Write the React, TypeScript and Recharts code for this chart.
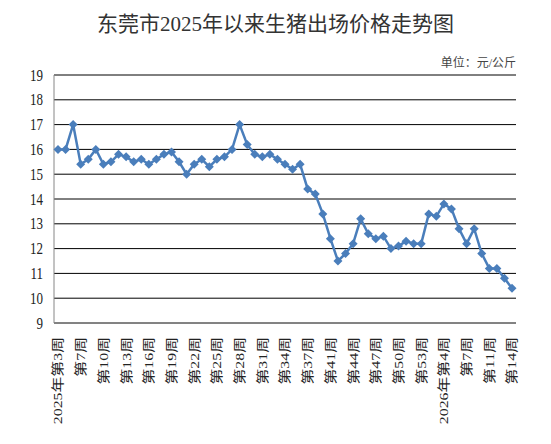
import { LineChart, Line, XAxis, YAxis, CartesianGrid } from 'recharts'

const weeks = [
  '2025年第3周', '第4周', '第6周', '第7周', '第8周', '第9周', '第10周', '第11周', '第12周', '第13周',
  '第14周', '第15周', '第16周', '第17周', '第18周', '第19周', '第20周', '第21周', '第22周', '第23周',
  '第24周', '第25周', '第26周', '第27周', '第28周', '第29周', '第30周', '第31周', '第32周', '第33周',
  '第34周', '第35周', '第36周', '第37周', '第38周', '第39周', '第41周', '第42周', '第43周', '第44周',
  '第45周', '第46周', '第47周', '第48周', '第49周', '第50周', '第51周', '第52周', '第53周', '2026年第2周',
  '第3周', '2026年第4周', '第5周', '第6周', '第7周', '第9周', '第10周', '第11周', '第12周', '第13周',
  '第14周',
]

const prices = [
  16.0, 16.0, 17.0, 15.4, 15.6, 16.0, 15.4, 15.5, 15.8, 15.7,
  15.5, 15.6, 15.4, 15.6, 15.8, 15.9, 15.5, 15.0, 15.4, 15.6,
  15.3, 15.6, 15.7, 16.0, 17.0, 16.2, 15.8, 15.7, 15.8, 15.6,
  15.4, 15.2, 15.4, 14.4, 14.2, 13.4, 12.4, 11.5, 11.8, 12.2,
  13.2, 12.6, 12.4, 12.5, 12.0, 12.1, 12.3, 12.2, 12.2, 13.4,
  13.3, 13.8, 13.6, 12.8, 12.2, 12.8, 11.8, 11.2, 11.2, 10.8,
  10.4,
]

const yTicks = [9, 10, 11, 12, 13, 14, 15, 16, 17, 18, 19]

const data = weeks.map((week, i) => ({ week, price: prices[i] }))

const FONT = '"Times New Roman", "Liberation Serif", "Noto Sans CJK SC", serif'
const BLUE = '#4a7ebb'

const Diamond = (props: any) => {
  const { cx, cy, index } = props
  const r = 4.5
  return (
    <path
      key={index}
      d={`M${cx},${cy - r}L${cx + r},${cy}L${cx},${cy + r}L${cx - r},${cy}Z`}
      fill={BLUE}
    />
  )
}

const YTick = (props: any) => {
  const { x, y, payload } = props
  return (
    <text
      transform={`translate(${x - 3},${y}) scale(1,1.25)`}
      textAnchor="end"
      dominantBaseline="central"
      fontSize={13}
      fontFamily={FONT}
      fill="#222"
    >
      {payload.value}
    </text>
  )
}

const XTick = (props: any) => {
  const { x, y, payload } = props
  return (
    <g transform={`translate(${x},${y + 6})`}>
      <text
        transform="scale(1,1.22) rotate(-90)"
        textAnchor="end"
        dominantBaseline="central"
        fontSize={13}
        fontFamily={FONT}
        fill="#222"
      >
        {payload.value}
      </text>
    </g>
  )
}

export default function App() {
  return (
    <div style={{ position: 'absolute', left: 0, top: 0, width: 551, height: 444, background: '#fff' }}>
      <div
        style={{
          position: 'absolute',
          left: 0,
          top: 7,
          width: 551,
          textAlign: 'center',
          fontSize: 21,
          fontFamily: FONT,
          color: '#333',
        }}
      >
        东莞市2025年以来生猪出场价格走势图
      </div>
      <div
        style={{
          position: 'absolute',
          right: 35,
          top: 53,
          fontSize: 12,
          fontFamily: FONT,
          color: '#444',
        }}
      >
        单位：元/公斤
      </div>
      <LineChart
        width={551}
        height={444}
        data={data}
        margin={{ top: 75, right: 35, left: 0, bottom: 21 }}
      >
        <CartesianGrid horizontal vertical={false} stroke="#000" />
        <XAxis
          dataKey="week"
          interval={2}
          height={100}
          tickLine={false}
          stroke="#868686"
          padding={{ left: 4, right: 4 }}
          tick={<XTick />}
        />
        <YAxis
          width={54}
          domain={[9, 19]}
          ticks={yTicks}
          tickLine={false}
          stroke="#868686"
          tick={<YTick />}
        />
        <Line
          type="linear"
          dataKey="price"
          stroke={BLUE}
          strokeWidth={2.5}
          dot={<Diamond />}
          isAnimationActive={false}
        />
      </LineChart>
    </div>
  )
}
